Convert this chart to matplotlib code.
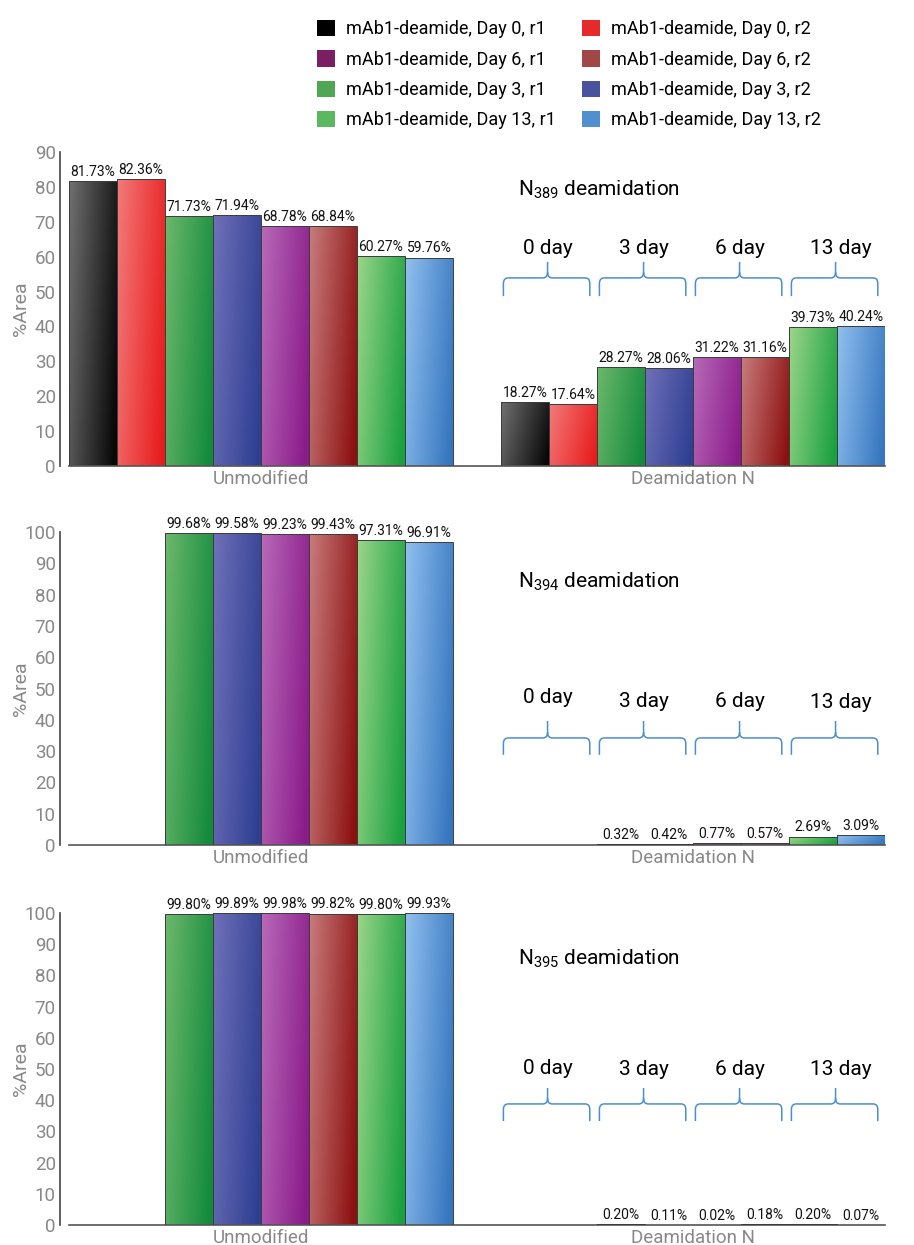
import numpy as np
import matplotlib
matplotlib.use('Agg')
import matplotlib.pyplot as plt
from matplotlib.patches import Patch, PathPatch
from matplotlib.path import Path
from matplotlib.colors import to_rgb

plt.rcParams['font.family'] = ['Roboto', 'DejaVu Sans']

# series in bar order
series = ['mAb1-deamide, Day 0, r1', 'mAb1-deamide, Day 0, r2',
          'mAb1-deamide, Day 3, r1', 'mAb1-deamide, Day 3, r2',
          'mAb1-deamide, Day 6, r1', 'mAb1-deamide, Day 6, r2',
          'mAb1-deamide, Day 13, r1', 'mAb1-deamide, Day 13, r2']
categories = ['Unmodified', 'Deamidation N']
day_labels = ['0 day', '3 day', '6 day', '13 day']
sites = ['389', '394', '395']

unmod_389 = [81.73, 82.36, 71.73, 71.94, 68.78, 68.84, 60.27, 59.76]
deam_389 = [18.27, 17.64, 28.27, 28.06, 31.22, 31.16, 39.73, 40.24]
unmod_394 = [None, None, 99.68, 99.58, 99.23, 99.43, 97.31, 96.91]
deam_394 = [None, None, 0.32, 0.42, 0.77, 0.57, 2.69, 3.09]
unmod_395 = [None, None, 99.80, 99.89, 99.98, 99.82, 99.80, 99.93]
deam_395 = [None, None, 0.20, 0.11, 0.02, 0.18, 0.20, 0.07]

panels = [(unmod_389, deam_389), (unmod_394, deam_394), (unmod_395, deam_395)]

# solid colours for legend, light/dark for the bar gradients
solid = ['#000000', '#e52a2a', '#4ea852', '#4a52a0', '#7a1f62', '#a04848', '#5cb85c', '#5090d0']
light = ['#707070', '#f27a7a', '#6cb86c', '#7070b8', '#b86ab8', '#c87c7c', '#9ad68a', '#92c0ee']
dark = ['#080808', '#e81c1c', '#138a3c', '#2e3f92', '#8a1a8a', '#8c1010', '#1aa040', '#3576c0']

gray = '#888888'
brace_col = '#4a8fd0'

fig = plt.figure(figsize=(9.14, 12.45), dpi=100)
W, H = 914, 1245

# pixel layout for each panel: (top, bottom), ymax, title y, day-label y, brace tip/mid/end (axes fraction)
layout = [
    dict(top=152, bottom=466, ymax=90, title=0.879, day=[0.694] * 4, brace=(0.650, 0.599, 0.541)),
    dict(top=532, bottom=845, ymax=100, title=0.840, day=[0.470, 0.457, 0.457, 0.455], brace=(0.396, 0.342, 0.288)),
    dict(top=913, bottom=1225, ymax=100, title=0.853, day=[0.503, 0.497, 0.497, 0.497], brace=(0.439, 0.388, 0.333)),
]

ny, nx = 40, 40
yy, xx = np.mgrid[0:1:ny * 1j, 0:1:nx * 1j]
tgrid = np.clip(0.8 * xx + 0.25 * yy, 0, 1)[..., None]


def draw_brace(ax, x0, x1, xc, y_tip, y_mid, y_end):
    rx, ry = 0.1, 0.018
    verts = [(x0, y_end), (x0, y_mid - ry), (x0, y_mid), (x0 + rx, y_mid),
             (xc - rx, y_mid), (xc, y_mid), (xc, y_mid + ry), (xc, y_tip),
             (x1, y_end), (x1, y_mid - ry), (x1, y_mid), (x1 - rx, y_mid),
             (xc + rx, y_mid), (xc, y_mid), (xc, y_mid + ry)]
    codes = [Path.MOVETO, Path.LINETO, Path.CURVE3, Path.CURVE3,
             Path.LINETO, Path.CURVE3, Path.CURVE3, Path.LINETO,
             Path.MOVETO, Path.LINETO, Path.CURVE3, Path.CURVE3,
             Path.LINETO, Path.CURVE3, Path.CURVE3]
    pp = PathPatch(Path(verts, codes), facecolor='none', edgecolor=brace_col,
                   lw=1.1, transform=ax.get_xaxis_transform(), clip_on=False)
    ax.add_patch(pp)


for p, (groups, lay) in enumerate(zip(panels, layout)):
    ax = fig.add_axes([69 / W, 1 - lay['bottom'] / H, (885 - 69) / W,
                       (lay['bottom'] - lay['top']) / H])
    for g, vals in enumerate(groups):
        for j, v in enumerate(vals):
            if v is None:
                continue
            x = g * 9 + j
            bar = ax.bar(x, v, width=1, align='edge', color='none',
                         edgecolor='#3c3c3c', linewidth=0.7, zorder=3)[0]
            c = np.array(to_rgb(light[j])) * (1 - tgrid) + np.array(to_rgb(dark[j])) * tgrid
            im = ax.imshow(c, extent=[x, x + 1, 0, v], aspect='auto', zorder=2,
                           interpolation='bilinear')
            im.set_clip_path(bar)
            ax.annotate(f'{v:.2f}%', (x + 0.5, v), xytext=(0, 1.5),
                        textcoords='offset points', ha='center', va='bottom',
                        fontsize=10, color='#111111')

    ax.set_xlim(0, 17)
    ax.set_ylim(0, lay['ymax'])
    ax.set_yticks(np.arange(0, lay['ymax'] + 1, 10))
    ax.set_xticks([4, 13])
    ax.set_xticklabels(categories)
    ax.tick_params(axis='y', length=0, pad=3, labelsize=13.5, labelcolor=gray)
    ax.tick_params(axis='x', length=0, pad=3, labelsize=13.5, labelcolor=gray)
    for s in ['top', 'right']:
        ax.spines[s].set_visible(False)
    ax.spines['left'].set_position(('outward', 6.5))
    ax.spines['left'].set_color('#444444')
    ax.spines['left'].set_linewidth(1.2)
    ax.spines['bottom'].set_color('#555555')
    ax.spines['bottom'].set_linewidth(1.2)
    ax.set_ylabel('%Area', color=gray, fontsize=14)
    ax.yaxis.set_label_coords(-0.048, 0.5)

    ax.text(9.35, lay['title'], r'N$\mathregular{_{' + sites[p] + r'}}$ deamidation',
            transform=ax.get_xaxis_transform(), ha='left', va='center', fontsize=15)
    tip, mid, end = lay['brace']
    for k, lbl in enumerate(day_labels):
        xc = 9.97 + 2 * k
        ax.text(xc + (0.1 if k == 3 else 0), lay['day'][k], lbl, transform=ax.get_xaxis_transform(),
                ha='center', va='center', fontsize=15)
        draw_brace(ax, 9.05 + 2 * k, 10.85 + 2 * k, xc, tip, mid, end)

legend_order = [0, 4, 2, 6, 1, 5, 3, 7]
handles = [Patch(facecolor=solid[i], edgecolor='none') for i in legend_order]
labels = [series[i] for i in legend_order]
fig.legend(handles, labels, ncol=2, loc='upper left', bbox_to_anchor=(317 / W, 1 - 20 / H),
           frameon=False, fontsize=13, handlelength=1.0, handleheight=1.0,
           handletextpad=0.6, columnspacing=1.45, labelspacing=0.67,
           borderpad=0, borderaxespad=0)

fig.savefig('out.png', dpi=100)
